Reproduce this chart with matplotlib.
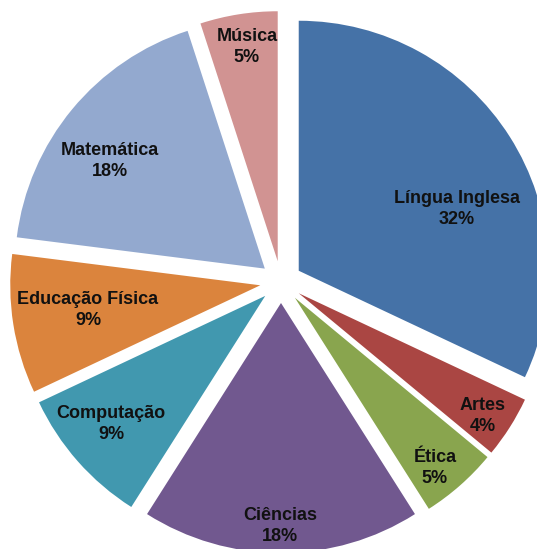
import matplotlib
matplotlib.use("Agg")
import matplotlib.pyplot as plt

# Distribuição por disciplina (%)
disciplinas = ["Língua Inglesa", "Artes", "Ética", "Ciências",
               "Computação", "Educação Física", "Matemática", "Música"]
percentuais = [32, 4, 5, 18, 9, 9, 18, 5]
cores = ["#4572A7", "#AA4643", "#89A54E", "#71588F",
         "#4198AF", "#DB843D", "#93A9CF", "#D19392"]

# Layout in pixel units (figure is 537 x 549 px)
W, H = 537, 549
centro = (281, H - 282)
raio = 250
afastamento = 21  # pie() offsets wedges by this amount in data units
# label anchor points (x, y from top)
pos_rotulos = [(457, 209), (483, 416), (435, 468), (280, 526),
               (111, 424), (88, 310), (110, 161), (247, 47)]

fig = plt.figure(figsize=(W / 100, H / 100), dpi=100)
ax = fig.add_axes([0, 0, 1, 1])
ax.pie(percentuais, explode=[afastamento] * len(percentuais),
       startangle=90, counterclock=False, colors=cores,
       radius=raio, center=centro, frame=True,
       wedgeprops=dict(linewidth=0))
ax.set_xlim(0, W)
ax.set_ylim(0, H)
ax.set_aspect("equal", adjustable="box")
ax.axis("off")

for nome, pct, (x, y) in zip(disciplinas, percentuais, pos_rotulos):
    ax.text(x, H - y, f"{nome}\n{pct}%", ha="center", va="center",
            fontsize=13, fontweight="bold", family="Liberation Sans",
            linespacing=1.3, color="#111111")

fig.savefig("out.png", dpi=100)
